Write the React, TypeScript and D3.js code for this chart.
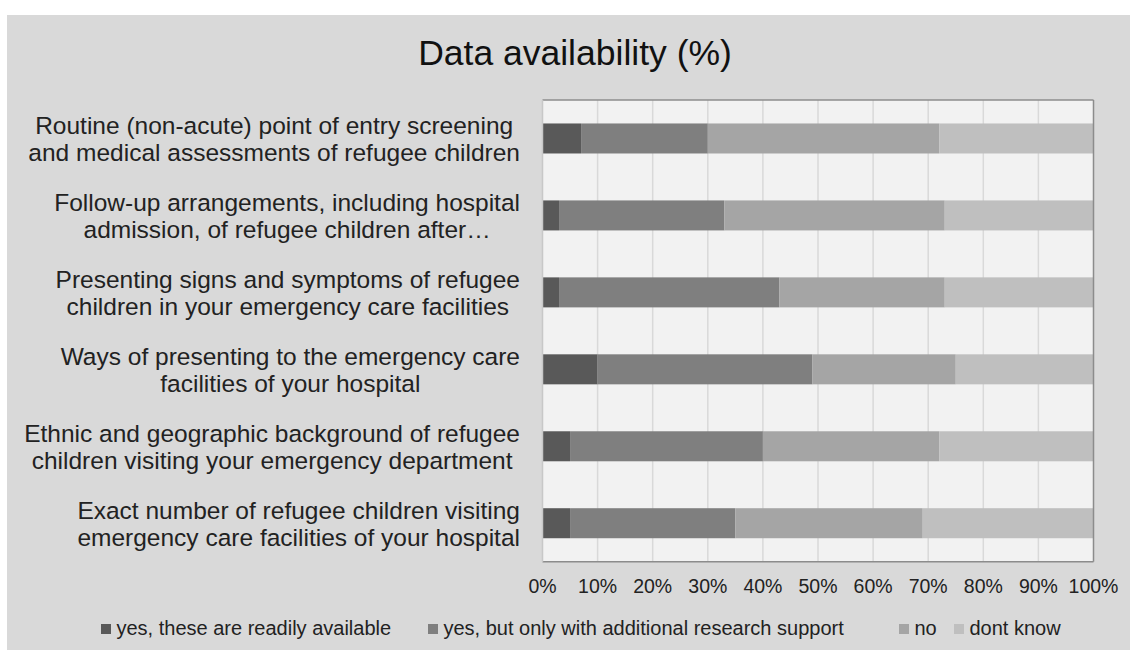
import React, { useEffect, useRef } from "react";
import * as d3 from "d3";

const categories: string[][] = [
  ["Routine (non-acute) point of entry screening", "and medical assessments of refugee children"],
  ["Follow-up arrangements, including hospital", "admission, of refugee children after…"],
  ["Presenting signs and symptoms of refugee", "children in your emergency care facilities"],
  ["Ways of presenting to the emergency care", "facilities of your hospital"],
  ["Ethnic and geographic background of refugee", "children visiting your emergency department"],
  ["Exact number of refugee children visiting", "emergency care facilities of your hospital"],
];

const seriesNames = [
  "yes, these are readily available",
  "yes, but only with additional research support",
  "no",
  "dont know",
];

const readilyAvailable = [7, 3, 3, 10, 5, 5];
const withResearchSupport = [23, 30, 40, 39, 35, 30];
const notAvailable = [42, 40, 30, 26, 32, 34];
const dontKnow = [28, 27, 27, 25, 28, 31];

const tickValues = [0, 10, 20, 30, 40, 50, 60, 70, 80, 90, 100];

const colors = ["#595959", "#7f7f7f", "#a5a5a5", "#bfbfbf"];

const W = 1130;
const H = 650;
const FONT = "'Liberation Sans', Arial, sans-serif";

export default function App() {
  const ref = useRef<SVGSVGElement | null>(null);

  useEffect(() => {
    const svg = d3.select(ref.current);
    svg.selectAll("*").remove();

    const plot = { left: 542.5, right: 1093.5, top: 100, bottom: 561.7 };

    svg.append("rect").attr("x", 0).attr("y", 0).attr("width", W).attr("height", H).attr("fill", "#ffffff");
    svg.append("rect").attr("x", 7).attr("y", 15).attr("width", W - 7).attr("height", H - 15).attr("fill", "#d9d9d9");

    svg
      .append("text")
      .attr("x", 575)
      .attr("y", 65)
      .attr("text-anchor", "middle")
      .attr("font-family", FONT)
      .attr("font-size", 35.5)
      .attr("fill", "#111")
      .text("Data availability (%)");

    const x = d3.scaleLinear().domain([0, 100]).range([plot.left, plot.right]);
    const y = d3
      .scaleBand<number>()
      .domain(d3.range(categories.length))
      .range([plot.top, plot.bottom])
      .paddingInner(0.61)
      .paddingOuter(0.305);

    svg
      .append("rect")
      .attr("x", plot.left)
      .attr("y", plot.top)
      .attr("width", plot.right - plot.left)
      .attr("height", plot.bottom - plot.top)
      .attr("fill", "#f2f2f2");

    // vertical gridlines
    svg
      .append("g")
      .selectAll("line")
      .data(tickValues.slice(1, -1))
      .join("line")
      .attr("x1", (d) => x(d))
      .attr("x2", (d) => x(d))
      .attr("y1", plot.top)
      .attr("y2", plot.bottom)
      .attr("stroke", "#d9d9d9")
      .attr("stroke-width", 1.5);

    // stacked bars
    const rows = categories.map((_, i) => ({
      i,
      a: readilyAvailable[i],
      b: withResearchSupport[i],
      c: notAvailable[i],
      d: dontKnow[i],
    }));
    const stack = d3.stack<any>().keys(["a", "b", "c", "d"]);
    const layers = stack(rows);

    svg
      .append("g")
      .selectAll("g")
      .data(layers)
      .join("g")
      .attr("fill", (_, k) => colors[k])
      .selectAll("rect")
      .data((l) => l)
      .join("rect")
      .attr("x", (s) => x(s[0]))
      .attr("width", (s) => x(s[1]) - x(s[0]))
      .attr("y", (s) => y(s.data.i) as number)
      .attr("height", y.bandwidth());

    // plot frame
    const frame = svg.append("g").attr("fill", "none");
    frame
      .append("line")
      .attr("x1", plot.left).attr("x2", plot.right)
      .attr("y1", plot.top).attr("y2", plot.top)
      .attr("stroke", "#8c8c8c").attr("stroke-width", 1.5);
    frame
      .append("line")
      .attr("x1", plot.left).attr("x2", plot.right)
      .attr("y1", plot.bottom).attr("y2", plot.bottom)
      .attr("stroke", "#8c8c8c").attr("stroke-width", 1.5);
    frame
      .append("line")
      .attr("x1", plot.right).attr("x2", plot.right)
      .attr("y1", plot.top).attr("y2", plot.bottom)
      .attr("stroke", "#8c8c8c").attr("stroke-width", 1.5);
    frame
      .append("line")
      .attr("x1", plot.left).attr("x2", plot.left)
      .attr("y1", plot.top).attr("y2", plot.bottom)
      .attr("stroke", "#c8c8c8").attr("stroke-width", 1.5);

    // x tick labels
    svg
      .append("g")
      .selectAll("text")
      .data(tickValues)
      .join("text")
      .attr("x", (d) => x(d))
      .attr("y", 593)
      .attr("text-anchor", "middle")
      .attr("font-family", FONT)
      .attr("font-size", 19.5)
      .attr("fill", "#222")
      .text((d) => `${d}%`);

    // category labels: lines centred on each other, block right-aligned
    const labelRight = 520;
    const lineGap = 27;
    categories.forEach((lines, i) => {
      const cy = (y(i) as number) + y.bandwidth() / 2 + 0.5;
      const g = svg.append("g");
      const texts = lines.map((ln, j) =>
        g
          .append("text")
          .attr("y", cy + (j - (lines.length - 1) / 2) * lineGap)
          .attr("dy", "0.35em")
          .attr("text-anchor", "middle")
          .attr("font-family", FONT)
          .attr("font-size", 24.5)
          .attr("fill", "#222")
          .text(ln)
      );
      const maxW = d3.max(texts, (t) => (t.node() as SVGTextElement).getComputedTextLength()) || 0;
      texts.forEach((t) => t.attr("x", labelRight - maxW / 2));
    });

    // legend
    const legendX = [101, 428, 899, 954];
    const legend = svg.append("g");
    seriesNames.forEach((name, k) => {
      legend
        .append("rect")
        .attr("x", legendX[k])
        .attr("y", 624)
        .attr("width", 10)
        .attr("height", 10)
        .attr("fill", colors[k]);
      legend
        .append("text")
        .attr("x", legendX[k] + 15.5)
        .attr("y", 635)
        .attr("font-family", FONT)
        .attr("font-size", 20)
        .attr("fill", "#222")
        .text(name);
    });
  }, []);

  return (
    <svg
      ref={ref}
      width={W}
      height={H}
      style={{ position: "absolute", left: 0, top: 0, display: "block" }}
    />
  );
}
